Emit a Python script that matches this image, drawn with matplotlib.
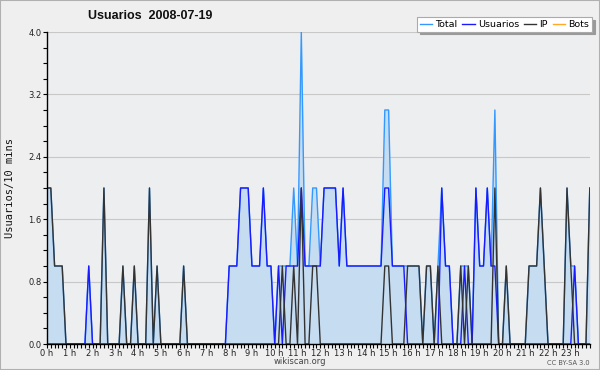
import numpy as np
import matplotlib
matplotlib.use("Agg")
import matplotlib.pyplot as plt
from matplotlib.ticker import MultipleLocator, FixedLocator
from matplotlib.patches import Rectangle

# 10-minute samples over the day (144 points)
total = [
    2, 2, 1, 1, 1, 0, 0, 0, 0, 0, 0, 1,
    0, 0, 0, 2, 0, 0, 0, 0, 1, 0, 0, 1,
    0, 0, 0, 2, 0, 1, 0, 0, 0, 0, 0, 0,
    1, 0, 0, 0, 0, 0, 0, 0, 0, 0, 0, 0,
    1, 1, 1, 2, 2, 2, 1, 1, 1, 2, 1, 1,
    0, 1, 1, 1, 1, 2, 1, 4, 1, 1, 2, 2,
    1, 2, 2, 2, 2, 1, 2, 1, 1, 1, 1, 1,
    1, 1, 1, 1, 1, 3, 3, 1, 1, 1, 1, 1,
    1, 1, 1, 0, 1, 1, 0, 1, 2, 1, 1, 0,
    0, 1, 1, 1, 0, 2, 1, 1, 2, 1, 3, 0,
    0, 1, 0, 0, 0, 0, 0, 1, 1, 1, 2, 1,
    0, 0, 0, 0, 0, 2, 1, 1, 0, 0, 0, 2,
]
usuarios = [
    0, 0, 0, 0, 0, 0, 0, 0, 0, 0, 0, 1,
    0, 0, 0, 0, 0, 0, 0, 0, 0, 0, 0, 0,
    0, 0, 0, 0, 0, 0, 0, 0, 0, 0, 0, 0,
    0, 0, 0, 0, 0, 0, 0, 0, 0, 0, 0, 0,
    1, 1, 1, 2, 2, 2, 1, 1, 1, 2, 1, 1,
    0, 1, 0, 1, 1, 1, 1, 2, 1, 1, 1, 1,
    1, 2, 2, 2, 2, 1, 2, 1, 1, 1, 1, 1,
    1, 1, 1, 1, 1, 2, 2, 1, 1, 1, 1, 0,
    0, 0, 0, 0, 0, 0, 0, 0, 2, 1, 1, 0,
    0, 0, 1, 0, 0, 2, 1, 1, 2, 1, 1, 0,
    0, 0, 0, 0, 0, 0, 0, 0, 0, 0, 0, 0,
    0, 0, 0, 0, 0, 0, 0, 1, 0, 0, 0, 0,
]
ip = [
    2, 2, 1, 1, 1, 0, 0, 0, 0, 0, 0, 0,
    0, 0, 0, 2, 0, 0, 0, 0, 1, 0, 0, 1,
    0, 0, 0, 2, 0, 1, 0, 0, 0, 0, 0, 0,
    1, 0, 0, 0, 0, 0, 0, 0, 0, 0, 0, 0,
    0, 0, 0, 0, 0, 0, 0, 0, 0, 0, 0, 0,
    0, 0, 1, 0, 0, 1, 0, 2, 0, 0, 1, 1,
    0, 0, 0, 0, 0, 0, 0, 0, 0, 0, 0, 0,
    0, 0, 0, 0, 0, 1, 1, 0, 0, 0, 0, 1,
    1, 1, 1, 0, 1, 1, 0, 1, 0, 0, 0, 0,
    0, 1, 0, 1, 0, 0, 0, 0, 0, 0, 2, 0,
    0, 1, 0, 0, 0, 0, 0, 1, 1, 1, 2, 1,
    0, 0, 0, 0, 0, 2, 1, 0, 0, 0, 0, 2,
]
bots = [0] * 144

hour_labels = [f"{h} h" for h in range(24)]
y_ticks = [0.0, 0.8, 1.6, 2.4, 3.2, 4.0]

title = "Usuarios  2008-07-19"
ylabel = "Usuarios/10 mins"

x = np.arange(len(total)) / 6.0

fig = plt.figure(figsize=(6, 3.7), dpi=100, facecolor="#efefef")
ax = fig.add_axes([47/600, 26/370, 543/600, 312/370])
ax.set_facecolor("#eceef0")

c_total = "#3399ff"
c_user = "#1a1aff"
c_ip = "#333333"
c_bots = "#ffaa22"

ax.fill_between(x, 0, total, color="#c6dcf0", lw=0, zorder=1)
l_tot, = ax.plot(x, total, color=c_total, lw=1.0, zorder=3)
l_bot, = ax.plot(x, bots, color=c_bots, lw=1.0, zorder=2)
l_usr, = ax.plot(x, usuarios, color=c_user, lw=1.0, zorder=4)
l_ip, = ax.plot(x, ip, color=c_ip, lw=1.0, zorder=5)

ax.set_xlim(0, 143/6 + 0.01)
ax.set_ylim(0, 4.0)

ax.yaxis.set_major_locator(FixedLocator(y_ticks))
ax.set_yticklabels([f"{v:.1f}" for v in y_ticks])
ax.yaxis.set_minor_locator(MultipleLocator(0.2))
ax.grid(axis="y", which="major", color="#c8c8c8", lw=0.8, zorder=0)
ax.set_axisbelow(True)

ax.xaxis.set_major_locator(FixedLocator(range(24)))
ax.set_xticklabels(hour_labels)
ax.xaxis.set_minor_locator(MultipleLocator(1/6))

ax.tick_params(axis="both", which="major", labelsize=6, length=3, width=0.8,
               color="black", pad=0.8, labelcolor="#222222")
ax.tick_params(axis="both", which="minor", length=3, width=0.8, color="black")

for s in ("top", "right"):
    ax.spines[s].set_visible(False)
for s in ("left", "bottom"):
    ax.spines[s].set_color("black")
    ax.spines[s].set_linewidth(1.0)
    ax.spines[s].set_zorder(6)

fig.text(150/600, 1 - 16/370, title, ha="center", va="center",
         fontsize=9, fontweight="bold", family="Liberation Sans", color="#111111")
fig.text(10/600, 1 - 188/370, ylabel, rotation=90, ha="center", va="center",
         fontsize=7.5, family="DejaVu Sans Mono", color="#111111")
fig.text(300/600, 1 - 362/370, "wikiscan.org", ha="center", va="center",
         fontsize=6, color="#444444")
fig.text(590/600, 1 - 363/370, "CC BY-SA 3.0", ha="right", va="center",
         fontsize=4.8, color="#555555")

leg = fig.legend([l_tot, l_usr, l_ip, l_bot], ["Total", "Usuarios", "IP", "Bots"],
                 loc="upper right", bbox_to_anchor=(592/600, 1 - 17/370),
                 ncol=4, fontsize=6.8, handlelength=1.3, handletextpad=0.35,
                 columnspacing=0.5, borderpad=0.3, fancybox=False,
                 shadow={"ox": 2, "oy": -2, "color": "#9a9a9a", "alpha": 1},
                 framealpha=1, edgecolor="#aaaaaa", borderaxespad=0)
leg.get_frame().set_linewidth(0.8)

fig.patches.append(Rectangle((0, 0), 1, 1, transform=fig.transFigure,
                             fill=False, edgecolor="#b0b0b0", lw=1.5))

fig.savefig("out.png", dpi=100, facecolor=fig.get_facecolor())
